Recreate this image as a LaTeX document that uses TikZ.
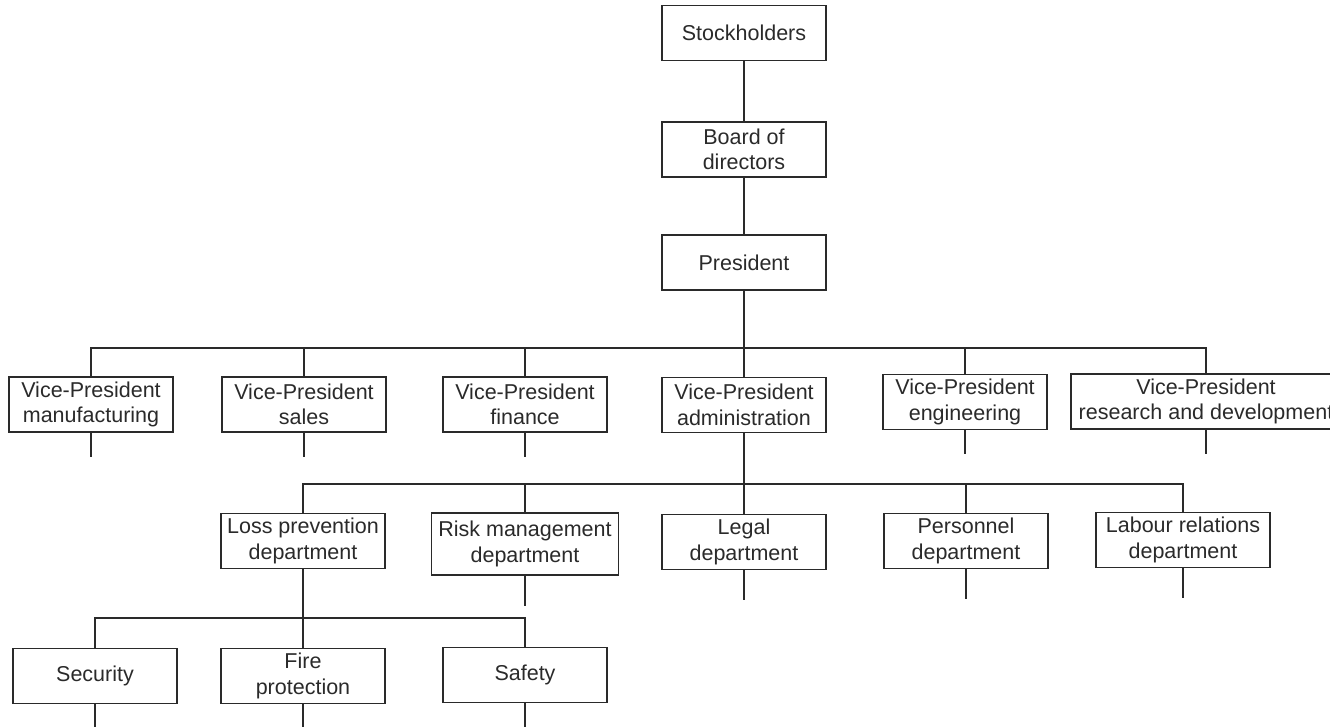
\documentclass[tikz,border=0pt]{standalone}
\usepackage{fontspec}
\setmainfont{Liberation Sans}
\definecolor{ink}{HTML}{2A2A2A}
\begin{document}
\begin{tikzpicture}[x=1pt,y=-1pt,color=ink,line width=1.2pt,
  unit/.style={draw,rectangle,inner sep=0pt,
    minimum width=164pt,minimum height=55pt,align=center,
    font=\fontsize{21.5}{25.5}\selectfont},
  wide/.style={minimum width=#1pt}]
\clip (0,0) rectangle (1330,727);

% top of the chain
\node[unit] (stock) at (744,33) {Stockholders};
\node[unit] (board) at (744,149.5) {Board of\\directors};
\node[unit] (pres) at (744,262.5) {President};

% vice-presidents
\node[unit] (vp1) at (91,404.5) {Vice-President\\manufacturing};
\node[unit] (vp2) at (304,404.5) {Vice-President\\sales};
\node[unit] (vp3) at (525,404.5) {Vice-President\\finance};
\node[unit] (vp4) at (744,405) {Vice-President\\administration};
\node[unit] (vp5) at (965,402) {Vice-President\\engineering};
\node[unit,wide=270] (vp6) at (1206,401.5) {Vice-President\\research and development};

% administration departments
\node[unit] (dep1) at (303,541) {Loss prevention\\department};
\node[unit,wide=187,minimum height=62pt] (dep2) at (525,544) {Risk management\\department};
\node[unit] (dep3) at (744,542) {Legal\\department};
\node[unit] (dep4) at (966,541) {Personnel\\department};
\node[unit,wide=174] (dep5) at (1183,540) {Labour relations\\department};

% loss prevention sections
\node[unit] (sec1) at (95,676) {Security};
\node[unit] (sec2) at (303,676) {Fire\\protection};
\node[unit] (sec3) at (525,675) {Safety};

% bus junctions
\coordinate (bus1) at (744,348);
\coordinate (bus2) at (744,484);
\coordinate (bus3) at (303,618);

% connectors
\draw (stock) -- (board);
\draw (board) -- (pres);
\draw (pres.south) -- (bus1);
\draw (vp1.north) |- (bus1) -| (vp6.north);
\foreach \n in {vp2,vp3,vp4,vp5} \draw (\n.north) -- (\n.north |- bus1);
\foreach \n in {vp1,vp2,vp3,vp5,vp6} \draw (\n.south) -- ++(0,24);

\draw (vp4.south) -- (bus2);
\draw (dep1.north) |- (bus2) -| (dep5.north);
\foreach \n in {dep2,dep3,dep4} \draw (\n.north) -- (\n.north |- bus2);
\foreach \n in {dep2,dep3,dep4,dep5} \draw (\n.south) -- ++(0,30);

\draw (dep1.south) -- (bus3);
\draw (sec1.north) |- (bus3) -| (sec3.north);
\draw (sec2.north) -- (bus3);
\foreach \n in {sec1,sec2,sec3} \draw (\n.south) -- ++(0,30);
\end{tikzpicture}
\end{document}
